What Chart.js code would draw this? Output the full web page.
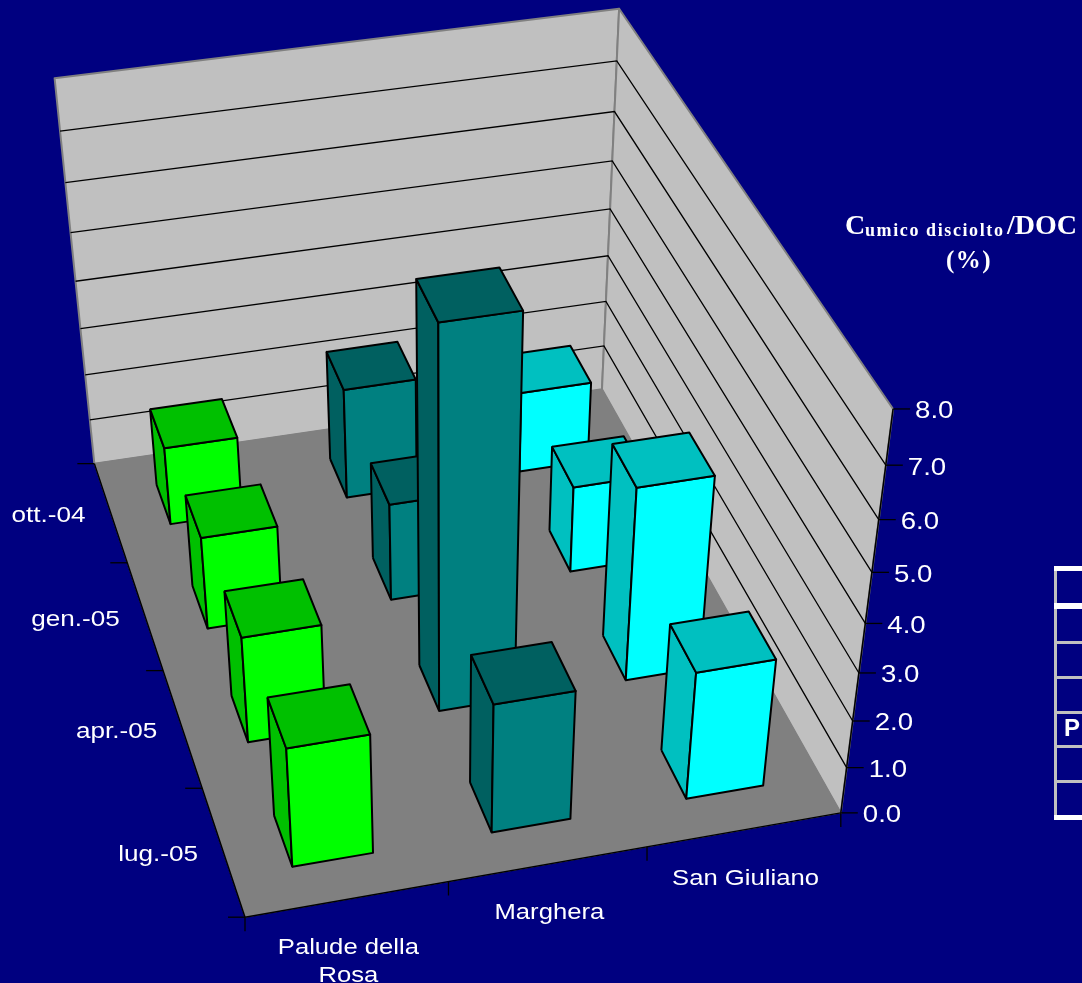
<!DOCTYPE html>
<html>
<head>
<meta charset="utf-8">
<title>Cumico disciolto / DOC</title>
<script src="https://cdn.jsdelivr.net/npm/chart.js@4"></script>
<style>
  html, body { margin: 0; background: #000080; overflow: hidden; }
  canvas { display: block; }
</style>
</head>
<body>
<canvas id="chart" width="1082" height="983"></canvas>
<script>
const sites = [['Palude della', 'Rosa'], ['Marghera'], ['San Giuliano']];
const months = ['ott.-04', 'gen.-05', 'apr.-05', 'lug.-05'];
const paludeDellaRosa = [1.7, 2.0, 2.28, 2.55];
const marghera = [2.4, 2.1, 7.8, 2.75];
const sanGiuliano = [1.77, 1.87, 4.1, 2.72];
const valueTicks = [0, 1, 2, 3, 4, 5, 6, 7, 8];

const seriesValues = [paludeDellaRosa, marghera, sanGiuliano];
const faceColors = [
  { front: '#00ff00', side: '#00c000' },
  { front: '#008080', side: '#006060' },
  { front: '#00ffff', side: '#00c0c0' }
];
const valueMax = valueTicks[valueTicks.length - 1];

// frame corners: [site axis, month axis, height] -> canvas pixel
const frameCorners = [
  [0, 0, 0, 245, 917], [1, 0, 0, 840, 813], [1, 1, 0, 603, 389], [0, 1, 0, 94, 464],
  [0, 1, 1, 55, 78], [1, 1, 1, 618, 9], [1, 0, 1, 894, 409]
];
const barHalfU = 0.067;
const barHalfV = 0.05;

// least squares fit of the 11 camera terms
function solveCamera(corners) {
  const rows = [];
  corners.forEach(([u, v, w, x, y]) => {
    rows.push([u, v, w, 1, 0, 0, 0, 0, -x * u, -x * v, -x * w, x]);
    rows.push([0, 0, 0, 0, u, v, w, 1, -y * u, -y * v, -y * w, y]);
  });
  const n = 11;
  const m = [];
  for (let i = 0; i < n; i++) {
    m.push([]);
    for (let j = 0; j <= n; j++) {
      m[i].push(rows.reduce((s, r) => s + r[i] * r[j], 0));
    }
  }
  for (let i = 0; i < n; i++) {
    let p = i;
    for (let k = i + 1; k < n; k++) if (Math.abs(m[k][i]) > Math.abs(m[p][i])) p = k;
    [m[i], m[p]] = [m[p], m[i]];
    for (let k = 0; k < n; k++) {
      if (k === i) continue;
      const f = m[k][i] / m[i][i];
      for (let j = i; j <= n; j++) m[k][j] -= f * m[i][j];
    }
  }
  return m.map((r, i) => r[n] / r[i]);
}
const cam = solveCamera(frameCorners);

function project(u, v, w) {
  const d = cam[8] * u + cam[9] * v + cam[10] * w + 1;
  return {
    x: (cam[0] * u + cam[1] * v + cam[2] * w + cam[3]) / d,
    y: (cam[4] * u + cam[5] * v + cam[6] * w + cam[7]) / d
  };
}

const datasets = [];
function addShape(points, fillColor, lineColor, lineWidth) {
  datasets.push({
    data: points.concat([points[0]]),
    backgroundColor: fillColor,
    borderColor: lineColor,
    borderWidth: lineWidth,
    fill: 'shape',
    tension: 0,
    pointRadius: 0,
    borderJoinStyle: 'round'
  });
}
function addLine(points, color, width) {
  datasets.push({
    data: points,
    borderColor: color,
    borderWidth: width,
    fill: false,
    tension: 0,
    pointRadius: 0
  });
}
function tick(p, dx, dy) {
  addLine([p, { x: p.x + dx, y: p.y + dy }], '#000000', 1.3);
}

// walls and floor
addShape([project(0, 1, 0), project(1, 1, 0), project(1, 1, 1), project(0, 1, 1)], '#c0c0c0', '#808080', 2);
addShape([project(1, 1, 0), project(1, 0, 0), project(1, 0, 1), project(1, 1, 1)], '#c0c0c0', '#808080', 2);
addShape([project(0, 0, 0), project(1, 0, 0), project(1, 1, 0), project(0, 1, 0)], '#808080', '#808080', 1);

valueTicks.forEach(t => {
  const w = t / valueMax;
  if (t > 0 && t < valueMax) {
    addLine([project(0, 1, w), project(1, 1, w), project(1, 0, w)], '#000000', 1.3);
  }
  tick(project(1, 0, w), 17, 0);
});
addLine([project(1, 0, 0), project(1, 0, 1)], '#000000', 1.5);
addLine([project(0, 0, 0), project(1, 0, 0)], '#000000', 1.5);
addLine([project(0, 0, 0), project(0, 1, 0)], '#000000', 1.5);
sites.forEach((s, i) => tick(project(i / sites.length, 0, 0), 0, 14));
tick(project(1, 0, 0), 0, 14);
months.forEach((m, i) => tick(project(0, 1 - i / months.length, 0), -17, 0));
tick(project(0, 0, 0), -17, 0);

// bars, far row first and right to left inside a row
months.forEach((month, r) => {
  for (let s = sites.length - 1; s >= 0; s--) {
    const uc = (s + 0.5) / sites.length;
    const vc = 1 - (r + 0.5) / months.length;
    const u0 = uc - barHalfU, u1 = uc + barHalfU;
    const v0 = vc - barHalfV, v1 = vc + barHalfV;
    const h = seriesValues[s][r] / valueMax;
    const c = faceColors[s];
    addShape([project(u0, v1, 0), project(u0, v0, 0), project(u0, v0, h), project(u0, v1, h)], c.side, '#000000', 2);
    addShape([project(u0, v0, 0), project(u1, v0, 0), project(u1, v0, h), project(u0, v0, h)], c.front, '#000000', 2);
    addShape([project(u0, v1, h), project(u0, v0, h), project(u1, v0, h), project(u1, v1, h)], c.side, '#000000', 2);
  }
});

// first dataset painted first
datasets.forEach((d, i) => { d.order = datasets.length - i; });

function stretchedText(ctx, text, x, y, sx) {
  ctx.save();
  ctx.translate(x, y);
  ctx.scale(sx, 1);
  ctx.fillText(text, 0, 0);
  ctx.restore();
}

const labelsPlugin = {
  id: 'frameLabels',
  afterDraw(chart) {
    const ctx = chart.ctx;
    ctx.save();
    ctx.fillStyle = '#ffffff';
    ctx.textBaseline = 'middle';

    ctx.font = '23px "Liberation Sans"';
    ctx.textAlign = 'left';
    valueTicks.forEach(t => {
      const p = project(1, 0, t / valueMax);
      stretchedText(ctx, t.toFixed(1), p.x + 22, p.y + 3, 1.2);
    });

    ctx.font = '22.5px "Liberation Sans"';
    ctx.textAlign = 'right';
    months.forEach((m, i) => {
      const p = project(0, 1 - (i + 0.5) / months.length, 0);
      stretchedText(ctx, m, p.x - 25, p.y + 4, 1.16);
    });

    ctx.textAlign = 'center';
    sites.forEach((lines, i) => {
      const p = project((i + 0.5) / sites.length, 0, 0);
      lines.forEach((line, l) => stretchedText(ctx, line, p.x + 1, p.y + 49 + l * 28, 1.14));
    });

    // axis title
    ctx.textAlign = 'left';
    ctx.textBaseline = 'alphabetic';
    ctx.font = 'bold 28px "Liberation Serif"';
    ctx.fillText('C', 845, 234);
    ctx.fillText('/DOC', 1007, 234);
    ctx.font = 'bold 18px "Liberation Serif"';
    ctx.letterSpacing = '1.6px';
    ctx.fillText('umico disciolto', 865, 236);
    ctx.letterSpacing = '0px';
    ctx.font = 'bold 25px "Liberation Serif"';
    ctx.letterSpacing = '1.5px';
    ctx.textAlign = 'center';
    ctx.fillText('(%)', 969, 268);
    ctx.letterSpacing = '0px';

    // side table, running off the right edge
    const whiteRules = [[566, 5], [603, 6], [815, 5]];
    const greyRules = [[641, 3], [676, 3], [711, 3], [745, 3], [780, 3]];
    ctx.fillStyle = '#c0c0c0';
    ctx.fillRect(1054, 566, 3, 254);
    greyRules.forEach(([y, h]) => ctx.fillRect(1054, y, 28, h));
    ctx.fillStyle = '#ffffff';
    whiteRules.forEach(([y, h]) => ctx.fillRect(1054, y, 28, h));
    ctx.font = 'bold 24px "Liberation Sans"';
    ctx.textAlign = 'left';
    ctx.textBaseline = 'middle';
    ctx.fillText('P', 1064, 729);
    ctx.restore();
  }
};

new Chart(document.getElementById('chart'), {
  type: 'line',
  data: { datasets },
  options: {
    responsive: false,
    animation: false,
    layout: { padding: 0 },
    plugins: { legend: { display: false }, tooltip: { enabled: false }, title: { display: false } },
    scales: {
      x: { type: 'linear', min: 0, max: 1082, display: false },
      y: { type: 'linear', min: 0, max: 983, reverse: true, display: false }
    }
  },
  plugins: [labelsPlugin]
});
</script>
</body>
</html>
